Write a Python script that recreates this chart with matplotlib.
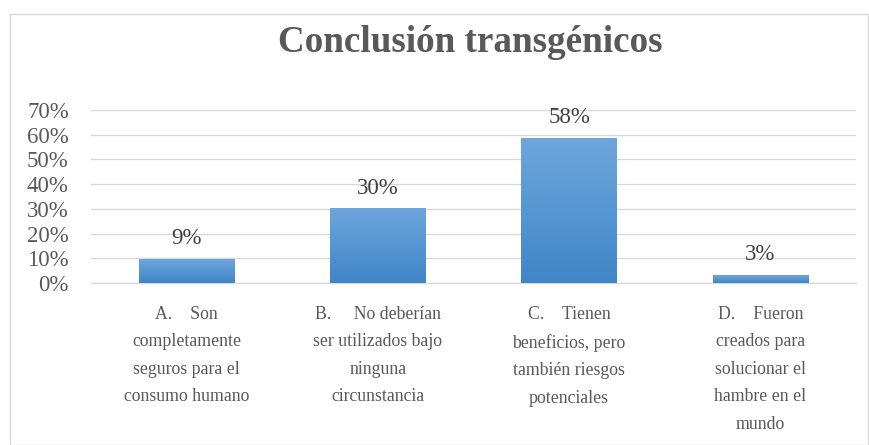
import matplotlib
matplotlib.use("Agg")
import matplotlib.pyplot as plt
import numpy as np
from matplotlib.patches import Rectangle
from matplotlib.colors import LinearSegmentedColormap

categories = [
    "A.    Son\ncompletamente\nseguros para el\nconsumo humano",
    "B.     No deberían\nser utilizados bajo\nninguna\ncircunstancia",
    "C.    Tienen\nbeneficios, pero\ntambién riesgos\npotenciales",
    "D.    Fueron\ncreados para\nsolucionar el\nhambre en el\nmundo",
]
values = [0.094, 0.30, 0.584, 0.03]
value_labels = ["9%", "30%", "58%", "3%"]
yticks = [0.0, 0.1, 0.2, 0.3, 0.4, 0.5, 0.6, 0.7]
ytick_labels = ["0%", "10%", "20%", "30%", "40%", "50%", "60%", "70%"]
title = "Conclusión transgénicos"

plt.rcParams['font.family'] = ['Liberation Serif', 'DejaVu Serif']

fig = plt.figure(figsize=(8.7, 4.45), dpi=100)
fig.patches.append(Rectangle((10/870, 0.5/445), 858.5/870, (445-14.5)/445,
                             transform=fig.transFigure, fill=False,
                             edgecolor='#d9d9d9', linewidth=1.0))
ax = fig.add_axes([91/870, 1-283/445, (856-91)/870, (283-110)/445])

x = np.arange(len(categories))
bars = ax.bar(x, values, width=0.5, color='none', zorder=3)
cmap = LinearSegmentedColormap.from_list('g', ['#3f86c8', '#6ea6dc'])
grad = np.linspace(0, 1, 256).reshape(-1, 1)
for b in bars:
    x0, y0 = b.get_x(), b.get_y()
    w, h = b.get_width(), b.get_height()
    ax.imshow(grad, extent=(x0, x0 + w, y0, y0 + h), origin='lower',
              cmap=cmap, aspect='auto', zorder=3, interpolation='bicubic')
for i, (v, lab) in enumerate(zip(values, value_labels)):
    ax.annotate(lab, (x[i], v), xytext=(0, 11), textcoords='offset points',
                ha='center', va='baseline', fontsize=16.5, color='#404040')

ax.set_xlim(-0.5, len(categories) - 0.5)
ax.set_ylim(0, 0.7)
ax.set_yticks(yticks)
ax.set_yticklabels(ytick_labels, fontsize=16.5, color='#595959')
ax.set_xticks(x)
ax.set_xticklabels(categories, fontsize=12.8, color='#595959', linespacing=1.8)
ax.tick_params(axis='both', length=0)
ax.tick_params(axis='x', pad=16.5)
ax.tick_params(axis='y', pad=16)
ax.yaxis.grid(True, color='#d9d9d9', linewidth=1.0, zorder=0)
ax.set_axisbelow(True)
for s in ['top', 'right', 'left']:
    ax.spines[s].set_visible(False)
ax.spines['bottom'].set_color('#d9d9d9')
ax.spines['bottom'].set_linewidth(1.0)

fig.text(470/870, 1 - 52/445, title, ha='center', va='baseline',
         fontsize=26.7, fontweight='bold', color='#595959')

fig.savefig('out.png', dpi=100)
